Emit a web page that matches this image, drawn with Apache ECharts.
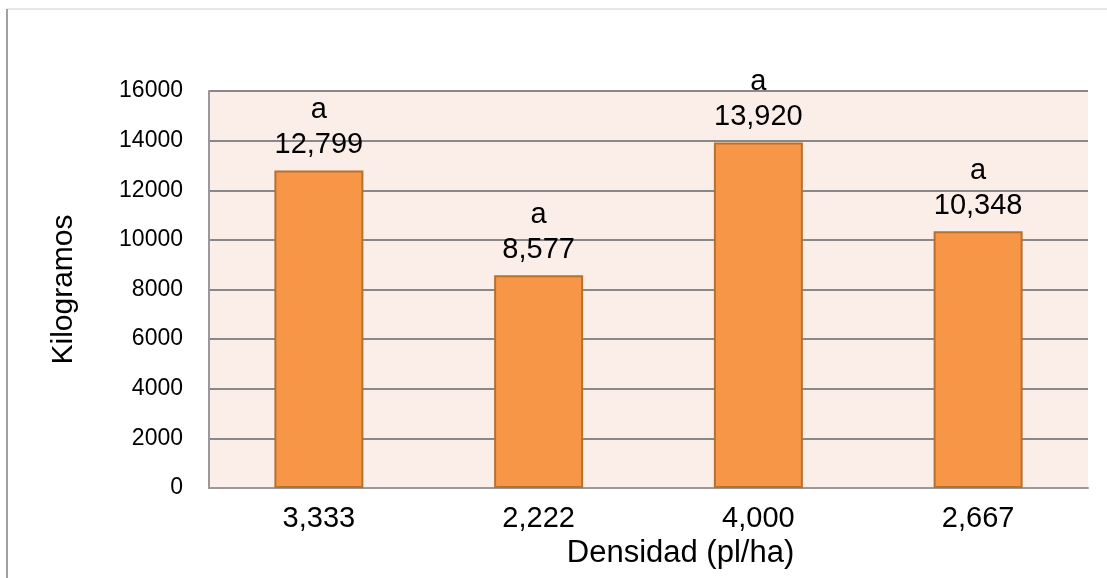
<!DOCTYPE html>
<html>
<head>
<meta charset="utf-8">
<script src="https://cdn.jsdelivr.net/npm/echarts@6/dist/echarts.min.js"></script>
<style>
  html, body { margin: 0; padding: 0; background: #fff; }
  #chart { width: 1107px; height: 578px; }
</style>
</head>
<body>
<div id="chart"></div>
<script>
// datos
var densidades = ['3,333', '2,222', '4,000', '2,667'];
var kilogramos = [12799, 8577, 13920, 10348];
var letras = ['a', 'a', 'a', 'a'];

var myChart = echarts.init(document.getElementById('chart'));
var fuente = '"Liberation Sans", Arial, sans-serif';

var option = {
  backgroundColor: '#fff',
  animation: false,
  graphic: [
    // marco exterior gris
    { type: 'line', shape: { x1: 7, y1: 9, x2: 1107, y2: 9 }, style: { stroke: '#d0d0d0', lineWidth: 1 } },
    { type: 'line', shape: { x1: 7, y1: 9, x2: 7, y2: 578 }, style: { stroke: '#a0a0a0', lineWidth: 2 } }
  ],
  grid: {
    left: 209,
    top: 91,
    width: 879,
    height: 397,
    show: true,
    backgroundColor: '#FBEEE9',
    borderWidth: 0
  },
  xAxis: {
    type: 'category',
    data: densidades,
    name: 'Densidad (pl/ha)',
    nameLocation: 'middle',
    nameGap: 48,
    nameTextStyle: { color: '#000', fontSize: 31, fontFamily: fuente, padding: [0, 0, 0, 64] },
    axisLine: { show: true, lineStyle: { color: '#999', width: 2 } },
    axisTick: { show: false },
    axisLabel: { color: '#000', fontSize: 29, fontFamily: fuente, margin: 16 }
  },
  yAxis: {
    type: 'value',
    min: 0,
    max: 16000,
    interval: 2000,
    name: 'Kilogramos',
    nameLocation: 'middle',
    nameGap: 130,
    nameTextStyle: { color: '#000', fontSize: 30, fontFamily: fuente },
    axisLine: { show: true, lineStyle: { color: '#999', width: 2 } },
    axisTick: { show: false },
    axisLabel: {
      color: '#000', fontSize: 23, fontFamily: fuente, margin: 26,
      formatter: function (v) { return String(v); }
    },
    splitLine: { show: true, lineStyle: { color: '#888', width: 2 } }
  },
  series: [
    {
      type: 'bar',
      data: kilogramos,
      barWidth: 89,
      itemStyle: { color: '#F79646', borderColor: '#B8702F', borderWidth: 2 },
      label: {
        show: true,
        position: 'top',
        distance: 8,
        color: '#000',
        fontSize: 29,
        lineHeight: 35,
        fontFamily: fuente,
        formatter: function (p) {
          return letras[p.dataIndex] + '\n' + p.value.toLocaleString('en-US');
        }
      }
    }
  ]
};

option && myChart.setOption(option);
window.addEventListener('resize', function () {
  myChart.resize();
});
</script>
</body>
</html>
